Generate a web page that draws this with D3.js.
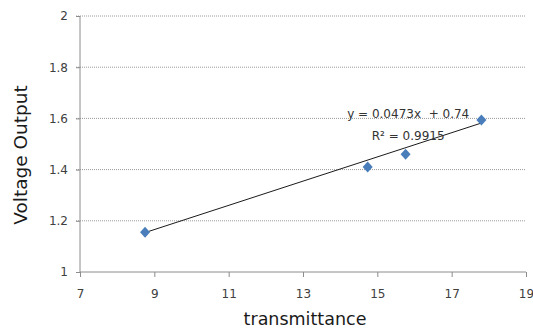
<!DOCTYPE html>
<html>
<head>
<meta charset="utf-8">
<script src="https://cdn.jsdelivr.net/npm/d3@7"></script>
<style>
  body { margin: 0; background: #fff; }
  svg { display: block; }
</style>
</head>
<body>
<div id="chart"></div>
<script>
const transmittance = [8.75, 14.74, 15.76, 17.8];
const voltage = [1.155, 1.41, 1.46, 1.594];
const xTicks = [7, 9, 11, 13, 15, 17, 19];
const yTicks = [1, 1.2, 1.4, 1.6, 1.8, 2];
const slope = 0.0473, intercept = 0.74;

const W = 533, H = 330;
const margin = { top: 16, right: 7, bottom: 58, left: 80 };
const width = W - margin.left - margin.right;
const height = H - margin.top - margin.bottom;

const svg = d3.select("#chart").append("svg")
    .attr("width", W)
    .attr("height", H);

const g = svg.append("g")
    .attr("transform", `translate(${margin.left},${margin.top})`);

const x = d3.scaleLinear().domain([7, 19]).range([0, width]);
const y = d3.scaleLinear().domain([1, 2]).range([height, 0]);

// gridlines
g.append("g")
    .selectAll("line")
    .data(yTicks.filter(d => d > 1))
    .join("line")
    .attr("x1", -4)
    .attr("x2", width)
    .attr("y1", d => y(d))
    .attr("y2", d => y(d))
    .attr("stroke", "#9a9a9a")
    .attr("stroke-width", 1)
    .attr("stroke-dasharray", "1,1");

// axes
const xAxis = g.append("g")
    .attr("transform", `translate(0,${height})`)
    .call(d3.axisBottom(x).tickValues(xTicks).tickSize(5).tickPadding(12).tickFormat(d3.format("d")));

const yAxis = g.append("g")
    .call(d3.axisLeft(y).tickValues(yTicks).tickSize(4).tickPadding(8).tickFormat(d => d3.format("~g")(d)));

[xAxis, yAxis].forEach(ax => {
    ax.select(".domain").attr("stroke", "#8c8c8c");
    ax.selectAll(".tick line").attr("stroke", "#8c8c8c");
    ax.selectAll(".tick text")
        .attr("fill", "#404040")
        .style("font-family", "'DejaVu Sans', sans-serif")
        .style("font-size", "12px");
});
xAxis.select(".domain").attr("d", `M0,0H${width}`);
yAxis.select(".domain").attr("d", `M0,${height}V0`);

// trendline
const x0 = d3.min(transmittance), x1 = d3.max(transmittance);
g.append("line")
    .attr("x1", x(x0))
    .attr("y1", y(slope * x0 + intercept))
    .attr("x2", x(x1))
    .attr("y2", y(slope * x1 + intercept))
    .attr("stroke", "#1a1a1a")
    .attr("stroke-width", 1);

// points
const pts = transmittance.map((t, i) => ({ t, v: voltage[i] }));
g.selectAll("path.pt")
    .data(pts)
    .join("path")
    .attr("class", "pt")
    .attr("transform", d => `translate(${x(d.t)},${y(d.v)})`)
    .attr("d", "M0,-5.5L5,0L0,5.5L-5,0Z")
    .attr("fill", "#4a7ebb");

// equation labels
const eqFont = "'DejaVu Sans', sans-serif";
g.append("text")
    .attr("x", x(15.83))
    .attr("y", y(1.6))
    .attr("text-anchor", "middle")
    .attr("fill", "#333")
    .style("font-family", eqFont)
    .style("font-size", "12px")
    .attr("xml:space", "preserve")
    .text("y = 0.0473x  + 0.74");

g.append("text")
    .attr("x", x(15.83))
    .attr("y", y(1.6) + 22)
    .attr("text-anchor", "middle")
    .attr("fill", "#333")
    .style("font-family", eqFont)
    .style("font-size", "12px")
    .text("R² = 0.9915");

// axis titles
svg.append("text")
    .attr("x", 305)
    .attr("y", 325)
    .attr("text-anchor", "middle")
    .attr("fill", "#1a1a1a")
    .style("font-family", eqFont)
    .style("font-size", "17.5px")
    .text("transmittance");

svg.append("text")
    .attr("transform", "translate(27,155) rotate(-90)")
    .attr("text-anchor", "middle")
    .attr("fill", "#1a1a1a")
    .style("font-family", eqFont)
    .style("font-size", "18.5px")
    .text("Voltage Output");
</script>
</body>
</html>
